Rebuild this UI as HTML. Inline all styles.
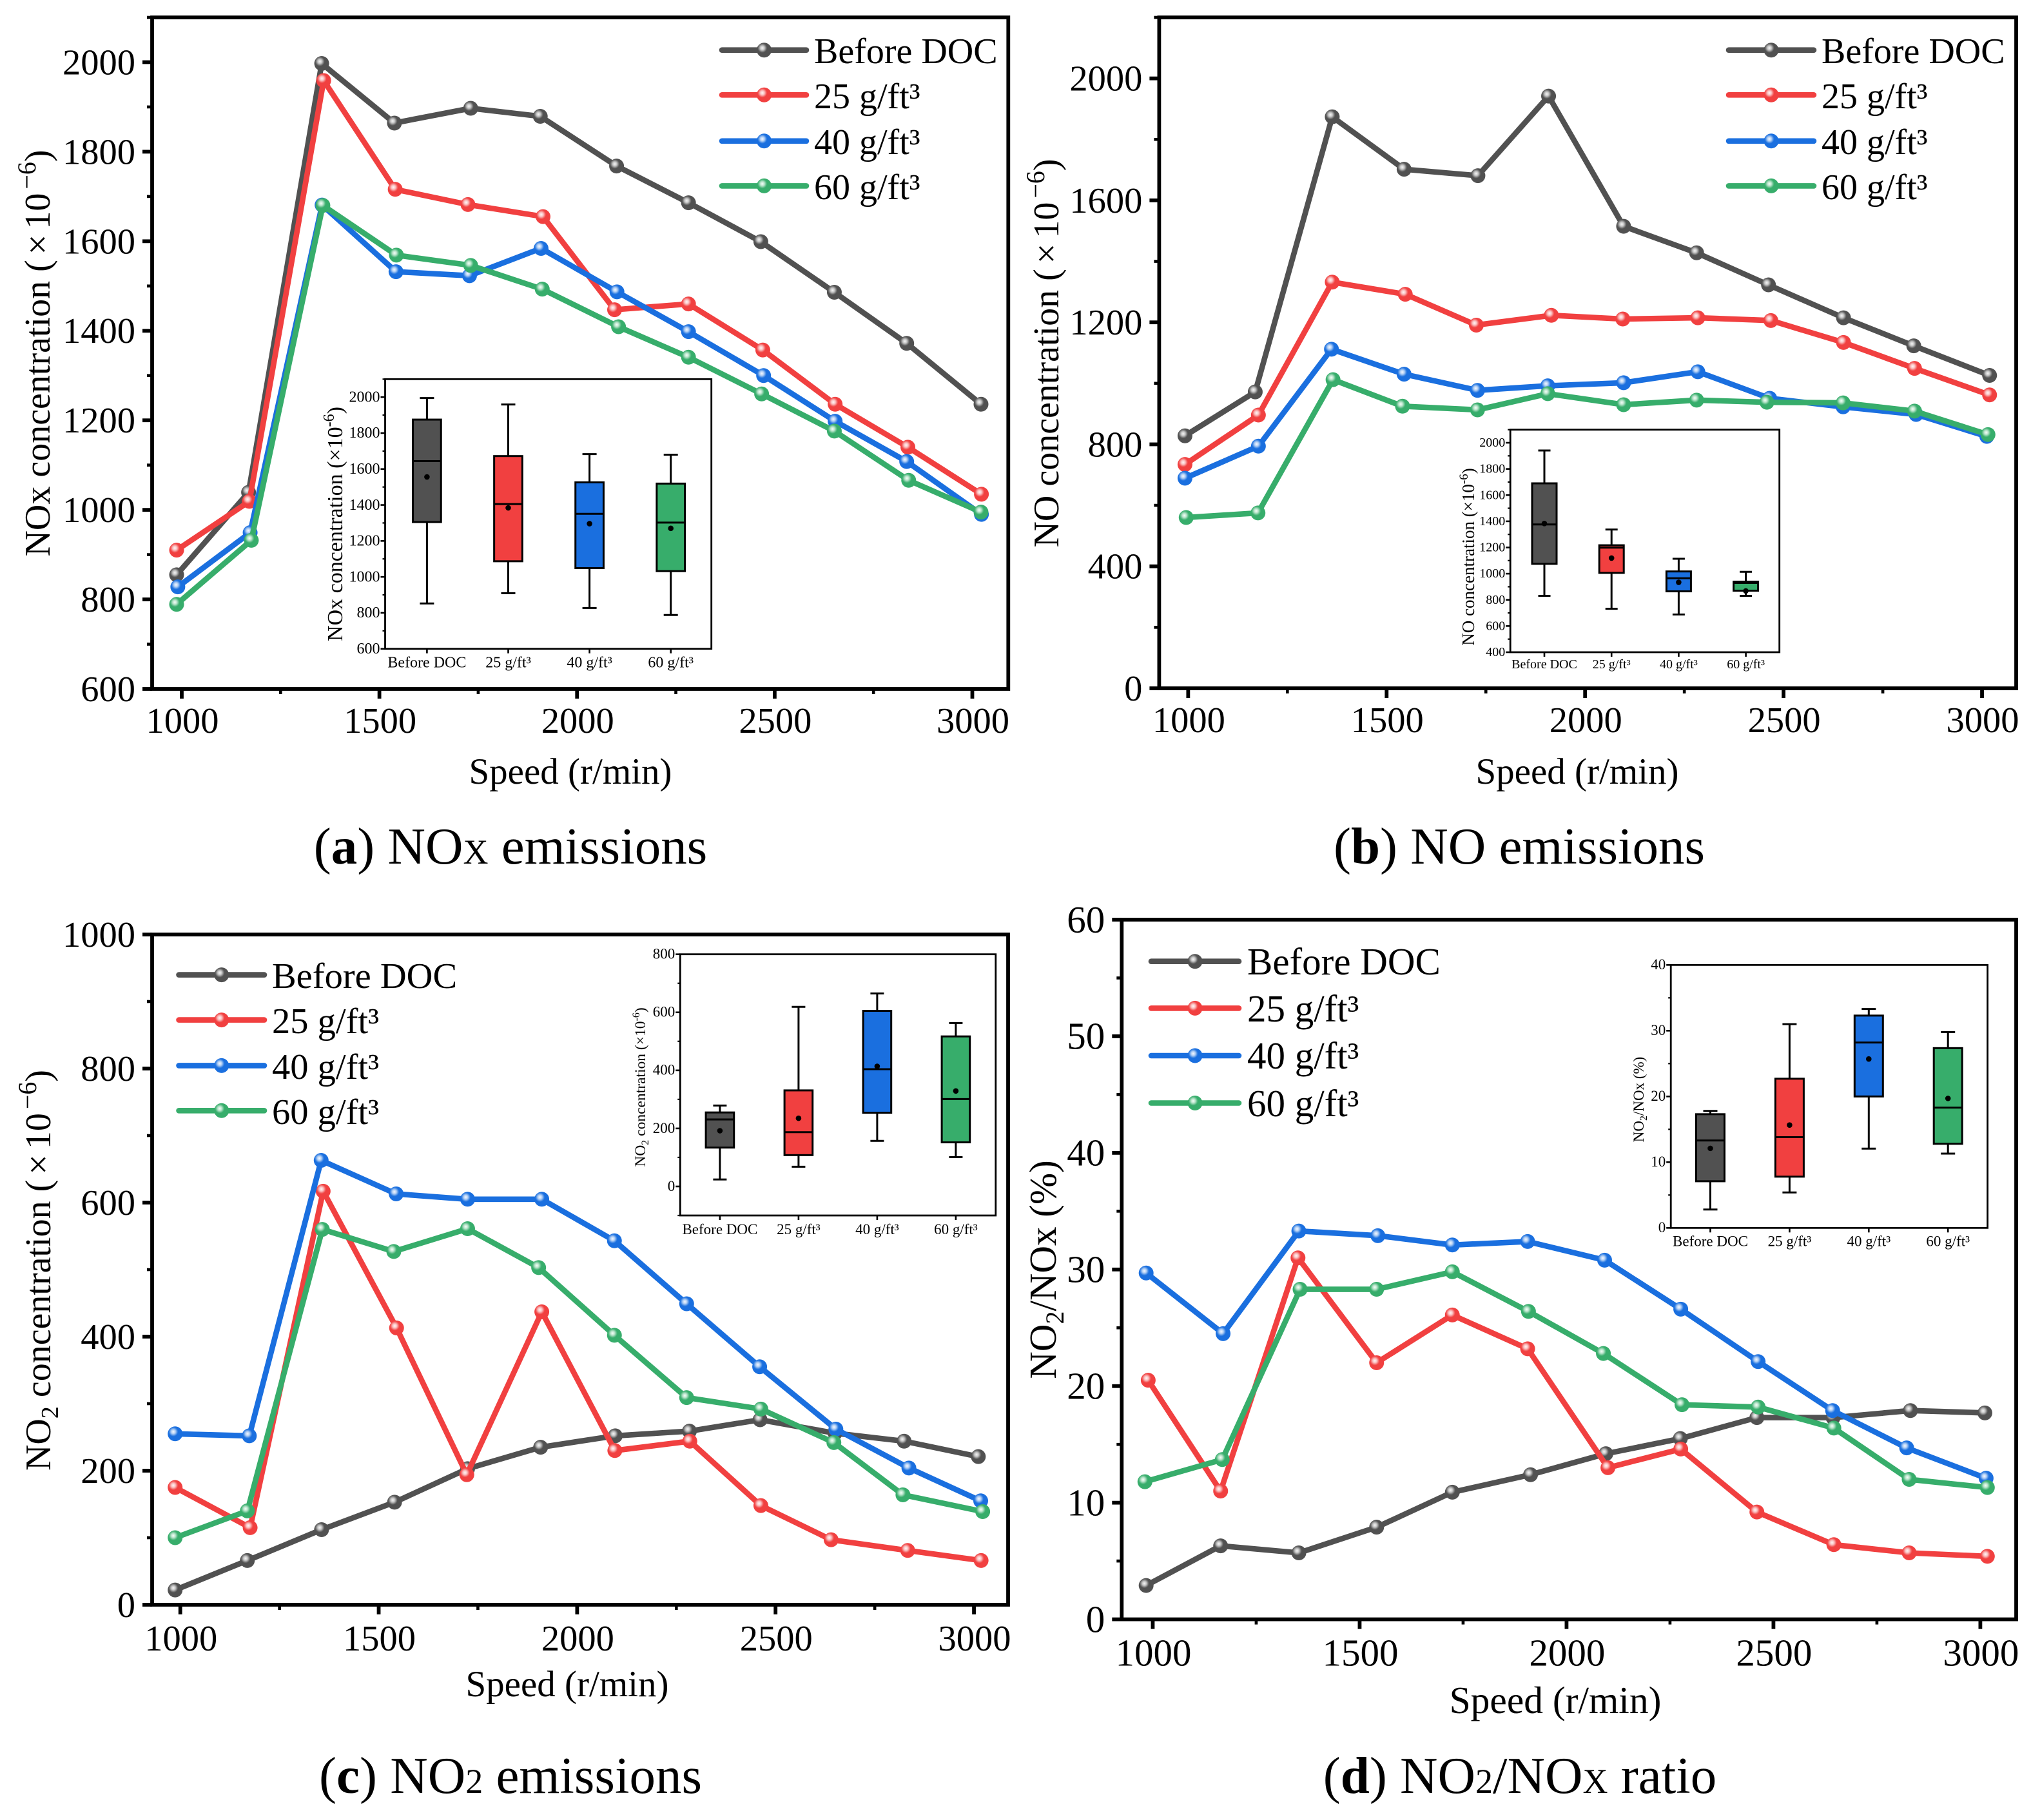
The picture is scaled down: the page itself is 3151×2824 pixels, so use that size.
<!DOCTYPE html>
<html lang="en">
<head>
<meta charset="utf-8">
<title>NOx, NO and NO2 emissions before and after DOC</title>
<style>
html,body{margin:0;padding:0;background:#fff;}
svg{display:block;font-family:"Liberation Serif","Times New Roman",serif;fill:#000;}
</style>
</head>
<body>
<svg id="figure" xmlns="http://www.w3.org/2000/svg" width="3151" height="2824" viewBox="0 0 3151 2824">
<defs>
<radialGradient id="sphere-before" cx="0.38" cy="0.36" r="0.32"><stop offset="0" stop-color="#f6f6f6"/><stop offset="0.45" stop-color="#c4c4c4"/><stop offset="0.8" stop-color="#777"/><stop offset="1" stop-color="#515151"/></radialGradient>
<radialGradient id="sphere-25" cx="0.38" cy="0.36" r="0.32"><stop offset="0" stop-color="#fff6f6"/><stop offset="0.45" stop-color="#fac0c0"/><stop offset="0.8" stop-color="#f46a6a"/><stop offset="1" stop-color="#f14040"/></radialGradient>
<radialGradient id="sphere-40" cx="0.38" cy="0.36" r="0.32"><stop offset="0" stop-color="#f4f8ff"/><stop offset="0.45" stop-color="#b0cef4"/><stop offset="0.8" stop-color="#4a8ee6"/><stop offset="1" stop-color="#1a6fdf"/></radialGradient>
<radialGradient id="sphere-60" cx="0.38" cy="0.36" r="0.32"><stop offset="0" stop-color="#f6fff9"/><stop offset="0.45" stop-color="#b8e3ca"/><stop offset="0.8" stop-color="#60bf8a"/><stop offset="1" stop-color="#37ad6b"/></radialGradient>
</defs>

<g id="panel-a"></g>
<g id="panel-b"></g>
<g id="panel-c"></g>
<g id="panel-d"></g>

<!-- axis titles -->
<text font-size="56" text-anchor="middle" transform="translate(77,548) rotate(-90)">NOx concentration (<tspan dx="8">×</tspan><tspan dx="8">10</tspan><tspan dx="6" dy="-22" font-size="40">−6</tspan><tspan dy="22">)</tspan></text>
<text font-size="57" text-anchor="middle" x="885" y="1216">Speed (r/min)</text>
<text font-size="56" text-anchor="middle" transform="translate(1642,548) rotate(-90)">NO concentration (<tspan dx="8">×</tspan><tspan dx="8">10</tspan><tspan dx="6" dy="-22" font-size="40">−6</tspan><tspan dy="22">)</tspan></text>
<text font-size="57" text-anchor="middle" x="2447" y="1216">Speed (r/min)</text>
<text font-size="56" text-anchor="middle" transform="translate(78,1971) rotate(-90)">NO<tspan dy="12" font-size="38">2</tspan><tspan dy="-12"> concentration (</tspan><tspan dx="8">×</tspan><tspan dx="8">10</tspan><tspan dx="6" dy="-22" font-size="40">−6</tspan><tspan dy="22">)</tspan></text>
<text font-size="57" text-anchor="middle" x="880" y="2632">Speed (r/min)</text>
<text font-size="59" text-anchor="middle" transform="translate(1638,1970) rotate(-90)">NO<tspan dy="12" font-size="40">2</tspan><tspan dy="-12">/NOx (%)</tspan></text>
<text font-size="59.5" text-anchor="middle" x="2413" y="2658">Speed (r/min)</text>

<!-- legends -->
<g font-size="56">
<text x="1263" y="98">Before DOC</text>
<text x="1263" y="168">25 g/ft³</text>
<text x="1263" y="239">40 g/ft³</text>
<text x="1263" y="309">60 g/ft³</text>
</g>
<g font-size="56">
<text x="2826" y="98">Before DOC</text>
<text x="2826" y="168">25 g/ft³</text>
<text x="2826" y="239">40 g/ft³</text>
<text x="2826" y="309">60 g/ft³</text>
</g>
<g font-size="56.5">
<text x="422" y="1533">Before DOC</text>
<text x="422" y="1603">25 g/ft³</text>
<text x="422" y="1674">40 g/ft³</text>
<text x="422" y="1744">60 g/ft³</text>
</g>
<g font-size="59">
<text x="1935" y="1512">Before DOC</text>
<text x="1935" y="1585">25 g/ft³</text>
<text x="1935" y="1658">40 g/ft³</text>
<text x="1935" y="1732">60 g/ft³</text>
</g>

<!-- inset y titles -->
<text font-size="34" text-anchor="middle" transform="translate(531,813) rotate(-90)">NOx concentration (×10<tspan dy="-13" font-size="24">-6</tspan><tspan dy="13">)</tspan></text>
<text font-size="27" text-anchor="middle" transform="translate(2287,864) rotate(-90)">NO concentration (×10<tspan dy="-10" font-size="19">-6</tspan><tspan dy="10">)</tspan></text>
<text font-size="23.5" text-anchor="middle" transform="translate(1001,1687) rotate(-90)">NO<tspan dy="5" font-size="16">2</tspan><tspan dy="-5"> concentration (×10</tspan><tspan dy="-9" font-size="16">-6</tspan><tspan dy="9">)</tspan></text>
<text font-size="23" text-anchor="middle" transform="translate(2550,1706) rotate(-90)">NO<tspan dy="5" font-size="16">2</tspan><tspan dy="-5">/NOx (%)</tspan></text>

<!-- captions -->
<text font-size="81" text-anchor="middle" x="792" y="1340">(<tspan font-weight="bold">a</tspan>) NO<tspan font-size="54">X</tspan> emissions</text>
<text font-size="81" text-anchor="middle" x="2357" y="1340">(<tspan font-weight="bold">b</tspan>) NO emissions</text>
<text font-size="81" text-anchor="middle" x="792" y="2782">(<tspan font-weight="bold">c</tspan>) NO<tspan font-size="54">2</tspan> emissions</text>
<text font-size="81" text-anchor="middle" x="2358" y="2782">(<tspan font-weight="bold">d</tspan>) NO<tspan font-size="54">2</tspan>/NO<tspan font-size="54">X</tspan> ratio</text>
</svg>

<script>
// ---------- shared tick labels / categories ----------
const speedTicks = [1000, 1500, 2000, 2500, 3000];
const boxCategories = ['Before DOC', '25 g/ft³', '40 g/ft³', '60 g/ft³'];

// ---------- panel (a) NOx ----------
const aYTicks = [600, 800, 1000, 1200, 1400, 1600, 1800, 2000];
const aSpeedBefore = [987, 1169, 1354, 1538, 1731, 1907, 2100, 2282, 2465, 2651, 2834, 3022];
const aValuesBefore = [855, 1039, 1997, 1864, 1897, 1879, 1768, 1686, 1599, 1486, 1372, 1236];
const aSpeed25 = [987, 1171, 1359, 1540, 1724, 1914, 2095, 2282, 2470, 2653, 2837, 3023];
const aValues25 = [910, 1019, 1959, 1716, 1682, 1655, 1447, 1460, 1357, 1236, 1140, 1035];
const aSpeed40 = [990, 1173, 1355, 1542, 1728, 1909, 2101, 2282, 2472, 2653, 2834, 3023];
const aValues40 = [828, 949, 1681, 1532, 1523, 1584, 1487, 1398, 1300, 1198, 1108, 990];
const aSpeed60 = [987, 1176, 1357, 1543, 1731, 1912, 2105, 2282, 2467, 2651, 2839, 3022];
const aValues60 = [789, 932, 1680, 1569, 1546, 1493, 1409, 1341, 1259, 1176, 1066, 995];
const aInsetTicks = [600, 800, 1000, 1200, 1400, 1600, 1800, 2000];
const aInsetLow = [852, 909, 827, 788];
const aInsetQ1 = [1305, 1087, 1049, 1032];
const aInsetMedian = [1644, 1405, 1351, 1302];
const aInsetMean = [1556, 1384, 1296, 1270];
const aInsetQ3 = [1875, 1672, 1526, 1519];
const aInsetHigh = [1995, 1959, 1683, 1680];

// ---------- panel (b) NO ----------
const bYTicks = [0, 400, 800, 1200, 1600, 2000];
const bSpeedBefore = [992, 1169, 1363, 1544, 1730, 1908, 2097, 2281, 2462, 2651, 2828, 3019];
const bValuesBefore = [828, 972, 1874, 1702, 1681, 1942, 1515, 1428, 1323, 1215, 1123, 1026];
const bSpeed25 = [992, 1177, 1363, 1547, 1726, 1915, 2095, 2284, 2468, 2651, 2830, 3019];
const bValues25 = [734, 896, 1332, 1292, 1191, 1223, 1211, 1215, 1206, 1134, 1049, 962];
const bSpeed40 = [992, 1177, 1361, 1544, 1729, 1906, 2097, 2284, 2465, 2650, 2834, 3012];
const bValues40 = [689, 794, 1112, 1030, 977, 992, 1002, 1038, 951, 923, 898, 826];
const bSpeed60 = [995, 1176, 1365, 1540, 1729, 1906, 2097, 2281, 2458, 2650, 2830, 3015];
const bValues60 = [560, 575, 1012, 925, 913, 966, 930, 945, 938, 936, 909, 832];
const bInsetTicks = [400, 600, 800, 1000, 1200, 1400, 1600, 1800, 2000];
const bInsetLow = [831, 732, 688, 831];
const bInsetQ1 = [1075, 1006, 865, 870];
const bInsetMedian = [1376, 1199, 965, 929];
const bInsetMean = [1383, 1119, 934, 868];
const bInsetQ3 = [1690, 1217, 1017, 939];
const bInsetHigh = [1941, 1337, 1114, 1014];

// ---------- panel (c) NO2 ----------
const cYTicks = [0, 200, 400, 600, 800, 1000];
const cSpeedBefore = [987, 1169, 1356, 1540, 1724, 1908, 2096, 2283, 2461, 2650, 2824, 3011];
const cValuesBefore = [22, 66, 112, 153, 203, 235, 252, 259, 276, 256, 244, 221];
const cSpeed25 = [987, 1176, 1360, 1545, 1722, 1911, 2095, 2284, 2463, 2640, 2833, 3018];
const cValues25 = [175, 115, 617, 413, 194, 437, 230, 244, 148, 97, 81, 66];
const cSpeed40 = [987, 1174, 1355, 1544, 1724, 1911, 2094, 2276, 2460, 2652, 2836, 3017];
const cValues40 = [255, 252, 663, 613, 605, 605, 543, 449, 355, 262, 204, 155];
const cSpeed60 = [987, 1169, 1358, 1538, 1724, 1903, 2094, 2276, 2463, 2647, 2821, 3022];
const cValues60 = [100, 140, 560, 527, 561, 503, 402, 309, 292, 242, 164, 139];
const cInsetTicks = [0, 200, 400, 600, 800];
const cInsetLow = [24, 68, 157, 101];
const cInsetQ1 = [134, 108, 254, 152];
const cInsetMedian = [231, 187, 404, 301];
const cInsetMean = [192, 235, 414, 329];
const cInsetQ3 = [255, 331, 605, 517];
const cInsetHigh = [279, 619, 665, 563];

// ---------- panel (d) NO2/NOx ----------
const dYTicks = [0, 10, 20, 30, 40, 50, 60];
const dSpeedBefore = [984, 1164, 1353, 1541, 1724, 1913, 2095, 2275, 2460, 2644, 2831, 3011];
const dValuesBefore = [2.9, 6.3, 5.7, 7.9, 10.9, 12.4, 14.2, 15.5, 17.3, 17.3, 17.9, 17.7];
const dSpeed25 = [989, 1164, 1351, 1541, 1724, 1906, 2100, 2276, 2460, 2646, 2828, 3017];
const dValues25 = [20.5, 11.0, 31.0, 22.0, 26.1, 23.2, 13.0, 14.6, 9.2, 6.4, 5.7, 5.4];
const dSpeed40 = [984, 1170, 1353, 1544, 1724, 1906, 2092, 2276, 2463, 2643, 2822, 3014];
const dValues40 = [29.7, 24.5, 33.3, 32.9, 32.1, 32.4, 30.8, 26.6, 22.1, 17.9, 14.7, 12.1];
const dSpeed60 = [981, 1168, 1356, 1541, 1724, 1908, 2089, 2279, 2463, 2646, 2828, 3017];
const dValues60 = [11.8, 13.7, 28.3, 28.3, 29.8, 26.4, 22.8, 18.4, 18.2, 16.4, 12.0, 11.3];
const dInsetTicks = [0, 10, 20, 30, 40];
const dInsetLow = [2.8, 5.4, 12.06, 11.3];
const dInsetQ1 = [7.1, 7.8, 20, 12.8];
const dInsetMedian = [13.3, 13.8, 28.2, 18.3];
const dInsetMean = [12.1, 15.65, 25.7, 19.7];
const dInsetQ3 = [17.3, 22.7, 32.3, 27.35];
const dInsetHigh = [17.8, 31, 33.3, 29.8];

const NS = 'http://www.w3.org/2000/svg';
const seriesKeys = ['before', '25', '40', '60'];
const seriesColors = { before: '#515151', '25': '#f14040', '40': '#1a6fdf', '60': '#37ad6b' };

function add(parent, tag, attrs) {
  const el = document.createElementNS(NS, tag);
  for (const k in attrs) el.setAttribute(k, attrs[k]);
  parent.appendChild(el);
  return el;
}
function linear(d0, d1, r0, r1) {
  return v => r0 + (v - d0) * (r1 - r0) / (d1 - d0);
}

function drawAxes(g, c, xScale, yScale, xTicks, yTicks, xMinorStep, yMinorStep, s) {
  const ticksG = add(g, 'g', { stroke: '#000', 'stroke-linecap': 'butt' });
  
  
  // y major
  yTicks.forEach(t => {
    const tick = add(ticksG, 'line', { x1: c.left - s.major, x2: c.left, y1: yScale(t), y2: yScale(t), 'stroke-width': s.tw });
    
    
    const label = add(g, 'text', { x: c.left - s.gap, y: yScale(t) + s.fs * 0.335, 'text-anchor': 'end', 'font-size': s.fs });
    
    
    label.textContent = String(t);
  });
  // y minor
  for (let v = yTicks[0] - yMinorStep; v <= c.ymax + 1e-6; v += yMinorStep * 2) {
    if (v < c.ymin - 1e-6) continue;
    const tick = add(ticksG, 'line', { x1: c.left - s.minor, x2: c.left, y1: yScale(v), y2: yScale(v), 'stroke-width': s.tw * 0.8 });
    
    
  }
  // x
  xTicks.forEach(t => {
    const tick = add(ticksG, 'line', { x1: xScale(t), x2: xScale(t), y1: c.bottom, y2: c.bottom + s.major, 'stroke-width': s.tw });
    
    
    const label = add(g, 'text', { x: xScale(t) + 1, y: c.bottom + s.xLabel, 'text-anchor': 'middle', 'font-size': s.fs });
    
    
    label.textContent = String(t);
  });
  for (let v = xTicks[0] + xMinorStep; v < xTicks[xTicks.length - 1]; v += xMinorStep * 2) {
    const tick = add(ticksG, 'line', { x1: xScale(v), x2: xScale(v), y1: c.bottom, y2: c.bottom + s.minor, 'stroke-width': s.tw * 0.8 });
    
    
  }
}

function drawPanel(id, c, yTicks, yMinorStep, seriesX, seriesY, labelStyle, legend) {
  const g = document.getElementById(id);
  const xScale = linear(c.xmin, c.xmax, c.left, c.right);
  const yScale = linear(c.ymin, c.ymax, c.bottom, c.top);
  const frame = add(g, 'rect', { x: c.left, y: c.top, width: c.right - c.left, height: c.bottom - c.top, fill: '#fff', stroke: '#000', 'stroke-width': 5.8 });
  
  
  drawAxes(g, c, xScale, yScale, speedTicks, yTicks, 250, yMinorStep, labelStyle);

  seriesKeys.forEach((key, si) => {
    const xs = seriesX[si], ys = seriesY[si];
    const pts = xs.map((x, i) => xScale(x).toFixed(1) + ',' + yScale(ys[i]).toFixed(1)).join(' ');
    const line = add(g, 'polyline', { points: pts, fill: 'none', stroke: seriesColors[key], 'stroke-width': 8.6, 'stroke-linejoin': 'round', 'stroke-linecap': 'round' });
    
    
    xs.forEach((x, i) => {
      const pt = add(g, 'circle', { cx: xScale(x), cy: yScale(ys[i]), r: 11.5, fill: 'url(#sphere-' + key + ')' });
      
      
    });
    const sw = add(g, 'line', { x1: legend.x1, x2: legend.x2, y1: legend.rows[si], y2: legend.rows[si], stroke: seriesColors[key], 'stroke-width': 8.6, 'stroke-linecap': 'round' });
    
    
    const dot = add(g, 'circle', { cx: (legend.x1 + legend.x2) / 2, cy: legend.rows[si], r: 11.5, fill: 'url(#sphere-' + key + ')' });
    
    
  });
}

function drawInset(id, c, ticks, minorStep, low, q1, median, mean, q3, high) {
  const g = add(document.getElementById(id), 'g', {});
  
  
  const yScale = linear(c.ymin, c.ymax, c.bottom, c.top);
  const xScale = i => c.first + i * c.step;
  const frame = add(g, 'rect', { x: c.left, y: c.top, width: c.right - c.left, height: c.bottom - c.top, fill: '#fff', stroke: '#000', 'stroke-width': 2.8 });
  
  
  ticks.forEach(t => {
    const tick = add(g, 'line', { x1: c.left - 7, x2: c.left, y1: yScale(t), y2: yScale(t), stroke: '#000', 'stroke-width': 2.6 });
    
    
    const label = add(g, 'text', { x: c.left - 8, y: yScale(t) + c.fs * 0.3, 'text-anchor': 'end', 'font-size': c.fs });
    
    
    label.textContent = String(t);
  });
  for (let v = ticks[0] - minorStep; v <= c.ymax + 1e-6; v += minorStep * 2) {
    if (v < c.ymin - 1e-6) continue;
    const tick = add(g, 'line', { x1: c.left - 4, x2: c.left, y1: yScale(v), y2: yScale(v), stroke: '#000', 'stroke-width': 2.2 });
    
    
  }
  boxCategories.forEach((name, i) => {
    const key = seriesKeys[i];
    const x = xScale(i);
    const tick = add(g, 'line', { x1: x, x2: x, y1: c.bottom, y2: c.bottom + 7, stroke: '#000', 'stroke-width': 2.6 });
    
    
    const label = add(g, 'text', { x: x, y: c.bottom + c.catOffset, 'text-anchor': 'middle', 'font-size': c.fs });
    
    
    label.textContent = name;

    const whisker = add(g, 'line', { x1: x, x2: x, y1: yScale(low[i]), y2: yScale(high[i]), stroke: '#000', 'stroke-width': 3 });
    
    
    [low[i], high[i]].forEach(v => {
      const cap = add(g, 'line', { x1: x - c.cap / 2, x2: x + c.cap / 2, y1: yScale(v), y2: yScale(v), stroke: '#000', 'stroke-width': 3 });
      
      
    });
    const box = add(g, 'rect', { x: x - c.box / 2, y: yScale(q3[i]), width: c.box, height: yScale(q1[i]) - yScale(q3[i]), fill: seriesColors[key], stroke: '#000', 'stroke-width': 3 });
    
    
    const med = add(g, 'line', { x1: x - c.box / 2, x2: x + c.box / 2, y1: yScale(median[i]), y2: yScale(median[i]), stroke: '#000', 'stroke-width': 3 });
    
    
    const dot = add(g, 'circle', { cx: x, cy: yScale(mean[i]), r: 4.3, fill: '#000' });
    
    
  });
}

const styleStd = { major: 15, minor: 8, tw: 5.8, fs: 56.5, gap: 26, xLabel: 68 };

drawPanel('panel-a',
  { left: 236, right: 1564.3, top: 27, bottom: 1069, xmin: 925, xmax: 3091, ymin: 600, ymax: 2100 },
  aYTicks, 100,
  [aSpeedBefore, aSpeed25, aSpeed40, aSpeed60],
  [aValuesBefore, aValues25, aValues40, aValues60],
  styleStd,
  { x1: 1120, x2: 1251, rows: [77.7, 147.3, 218.8, 288.4] });
drawInset('panel-a',
  { left: 597.5, right: 1103.7, top: 588.3, bottom: 1006.7, ymin: 600, ymax: 2100, first: 662.4, step: 126.1, box: 43.7, cap: 22, fs: 24, catOffset: 29 },
  aInsetTicks, 100, aInsetLow, aInsetQ1, aInsetMedian, aInsetMean, aInsetQ3, aInsetHigh);

drawPanel('panel-b',
  { left: 1798.4, right: 3128, top: 27, bottom: 1068, xmin: 927, xmax: 3086, ymin: 0, ymax: 2200 },
  bYTicks, 200,
  [bSpeedBefore, bSpeed25, bSpeed40, bSpeed60],
  [bValuesBefore, bValues25, bValues40, bValues60],
  styleStd,
  { x1: 2682, x2: 2814, rows: [77.7, 147.3, 218.8, 288.4] });
drawInset('panel-b',
  { left: 2343.2, right: 2760.7, top: 666.7, bottom: 1012, ymin: 400, ymax: 2100, first: 2396, step: 104.2, box: 38, cap: 19, fs: 20, catOffset: 25 },
  bInsetTicks, 100, bInsetLow, bInsetQ1, bInsetMedian, bInsetMean, bInsetQ3, bInsetHigh);

drawPanel('panel-c',
  { left: 236, right: 1564, top: 1450, bottom: 2490, xmin: 929, xmax: 3086, ymin: 0, ymax: 1000 },
  cYTicks, 100,
  [cSpeedBefore, cSpeed25, cSpeed40, cSpeed60],
  [cValuesBefore, cValues25, cValues40, cValues60],
  { major: 15, minor: 8, tw: 5.8, fs: 56.5, gap: 26, xLabel: 71 },
  { x1: 277.5, x2: 410, rows: [1512.6, 1582.6, 1653.4, 1723.3] });
drawInset('panel-c',
  { left: 1055.3, right: 1544.8, top: 1480.7, bottom: 1886, ymin: -100, ymax: 800, first: 1116.9, step: 122, box: 43.6, cap: 21, fs: 23, catOffset: 29 },
  cInsetTicks, 100, cInsetLow, cInsetQ1, cInsetMedian, cInsetMean, cInsetQ3, cInsetHigh);

drawPanel('panel-d',
  { left: 1740.3, right: 3128, top: 1427, bottom: 2512.6, xmin: 925, xmax: 3086.6, ymin: 0, ymax: 60 },
  dYTicks, 5,
  [dSpeedBefore, dSpeed25, dSpeed40, dSpeed60],
  [dValuesBefore, dValues25, dValues40, dValues60],
  { major: 15, minor: 8, tw: 5.8, fs: 59, gap: 26, xLabel: 72 },
  { x1: 1786, x2: 1922, rows: [1491.7, 1564.4, 1638, 1711.5] });
drawInset('panel-d',
  { left: 2592.2, right: 3083.6, top: 1497.3, bottom: 1905.3, ymin: 0, ymax: 40, first: 2653.5, step: 122.9, box: 44, cap: 22, fs: 23, catOffset: 28 },
  dInsetTicks, 5, dInsetLow, dInsetQ1, dInsetMedian, dInsetMean, dInsetQ3, dInsetHigh);
</script>
</body>
</html>
